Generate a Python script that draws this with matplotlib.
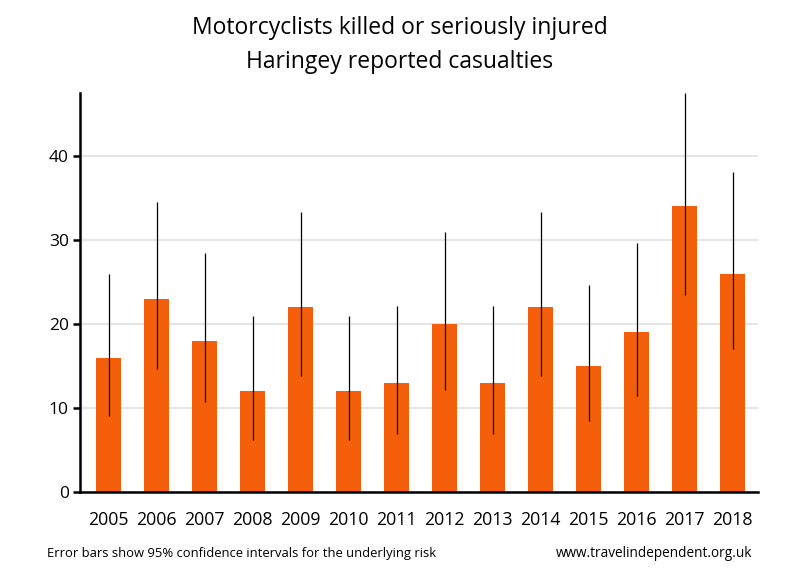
import matplotlib
matplotlib.use("Agg")
import matplotlib.pyplot as plt
import numpy as np

years = ["2005", "2006", "2007", "2008", "2009", "2010", "2011", "2012", "2013", "2014", "2015", "2016", "2017", "2018"]
values = [16, 23, 18, 12, 22, 12, 13, 20, 13, 22, 15, 19, 34, 26]
lower = [9.1, 14.6, 10.7, 6.2, 13.8, 6.2, 6.9, 12.2, 6.9, 13.8, 8.4, 11.4, 23.5, 17.0]
upper = [26.0, 34.5, 28.4, 21.0, 33.3, 21.0, 22.2, 30.9, 22.2, 33.3, 24.7, 29.7, 47.5, 38.1]

plt.rcParams['font.family'] = ['Open Sans', 'DejaVu Sans']

fig = plt.figure(figsize=(8, 5.8), dpi=100)
ax = fig.add_axes([0.1, 0.1517, 0.8475, 0.688])

x = np.arange(len(years))
ax.bar(x, values, width=0.52, color="#f55f0c", zorder=2)
ax.vlines(x, lower, upper, color="black", linewidth=0.9, zorder=3)

ax.set_xlim(-0.6, 13.525)
ax.set_ylim(0, 47.5)
ax.set_yticks([0, 10, 20, 30, 40])
ax.set_xticks(x)
ax.set_xticklabels(years)
ax.grid(axis='y', color="#e6e6e6", linewidth=1.5, zorder=0)
ax.set_axisbelow(True)
for s in ['top', 'right']:
    ax.spines[s].set_visible(False)
for s in ['left', 'bottom']:
    ax.spines[s].set_linewidth(1.8)
ax.tick_params(axis='y', length=5, width=1.8, labelsize=12.5, pad=3)
ax.tick_params(axis='x', length=0, labelsize=12.8, pad=14)

fig.text(0.5, 0.951, "Motorcyclists killed or seriously injured", ha='center', va='center', fontsize=16.5)
fig.text(0.5, 0.893, "Haringey reported casualties", ha='center', va='center', fontsize=16.5)
fig.text(0.059, 0.045, "Error bars show 95% confidence intervals for the underlying risk", ha='left', va='center', fontsize=9.4)
fig.text(0.94, 0.045, "www.travelindependent.org.uk", ha='right', va='center', fontsize=9.8)

fig.savefig("out.png", dpi=100)
